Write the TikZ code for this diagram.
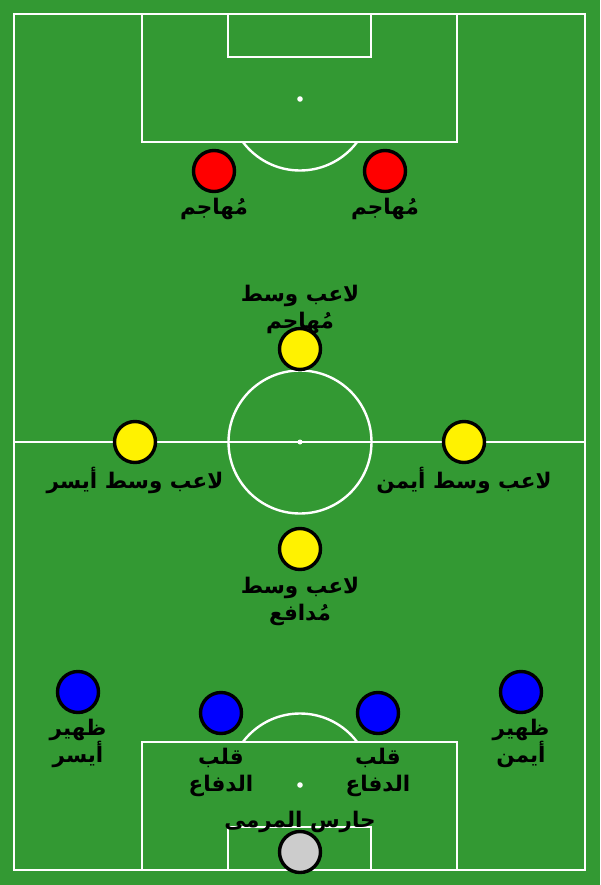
\documentclass[tikz,border=0pt]{standalone}
\usepackage{fontspec}
\TeXXeTstate=1
\newfontfamily\arabicfont[Script=Arabic]{DejaVu Sans}
\definecolor{pitch}{RGB}{51,153,51}
\definecolor{gk}{RGB}{204,204,204}
\tikzset{
  pline/.style={draw=white, line width=2.4pt},
  player/.style={circle, draw=black, line width=3.4pt, minimum size=41pt, inner sep=0pt},
  lbl/.style={font=\arabicfont\bfseries\fontsize{21.5}{27}\selectfont, text=black, align=center, inner sep=0pt}
}
\begin{document}
\begin{tikzpicture}[x=1pt,y=-1pt]
\fill[pitch] (0,0) rectangle (600,885);
\useasboundingbox (0,0) rectangle (600,885);
% pitch markings
\draw[pline] (14,14) rectangle (585,870);
\draw[pline] (14,442) -- (585,442);
\draw[pline] (300,442) circle (71.5);
\fill[white] (300,442) circle (2.5);
% top
\draw[pline] (142,14) rectangle (457,142);
\draw[pline] (228,14) rectangle (371,57);
\fill[white] (300,99) circle (2.8);
\begin{scope}
\clip (0,142) rectangle (600,300);
\draw[pline] (300,99) circle (71.5);
\end{scope}
% bottom
\draw[pline] (142,742) rectangle (457,870);
\draw[pline] (228,827) rectangle (371,870);
\fill[white] (300,785) circle (2.8);
\begin{scope}
\clip (0,600) rectangle (600,742);
\draw[pline] (300,785) circle (71.5);
\end{scope}
% players
\node[player, fill=red] (fw1) at (214,171) {};
\node[player, fill=red] (fw2) at (385,171) {};
\node[player, fill=yellow] (am) at (300,349) {};
\node[player, fill=yellow] (lm) at (135,442) {};
\node[player, fill=yellow] (rm) at (464,442) {};
\node[player, fill=yellow] (dm) at (300,549) {};
\node[player, fill=blue] (lb) at (78,692) {};
\node[player, fill=blue] (cb1) at (221,713) {};
\node[player, fill=blue] (cb2) at (378,713) {};
\node[player, fill=blue] (rb) at (521,692) {};
\node[player, fill=gk] (gkp) at (300,852) {};
% labels
\node[lbl] (tfw1) at (214,208.5) {\beginR مُهاجم\endR};
\node[lbl] (tfw2) at (385,208.5) {\beginR مُهاجم\endR};
\node[lbl] (tam) at (300,309) {\beginR لاعب وسط\endR\\\beginR مُهاجم\endR};
\node[lbl] (tlm) at (135,480) {\beginR لاعب وسط أيسر\endR};
\node[lbl] (trm) at (464,480) {\beginR لاعب وسط أيمن\endR};
\node[lbl] (tdm) at (300,601) {\beginR لاعب وسط\endR\\\beginR مُدافع\endR};
\node[lbl] (tlb) at (78,743.5) {\beginR ظهير\endR\\\beginR أيسر\endR};
\node[lbl] (tcb1) at (221,772.5) {\beginR قلب\endR\\\beginR الدفاع\endR};
\node[lbl] (tcb2) at (378,772.5) {\beginR قلب\endR\\\beginR الدفاع\endR};
\node[lbl] (trb) at (521,743.5) {\beginR ظهير\endR\\\beginR أيمن\endR};
\node[lbl] (tgk) at (300,822) {\beginR حارس المرمى\endR};
\end{tikzpicture}
\end{document}
